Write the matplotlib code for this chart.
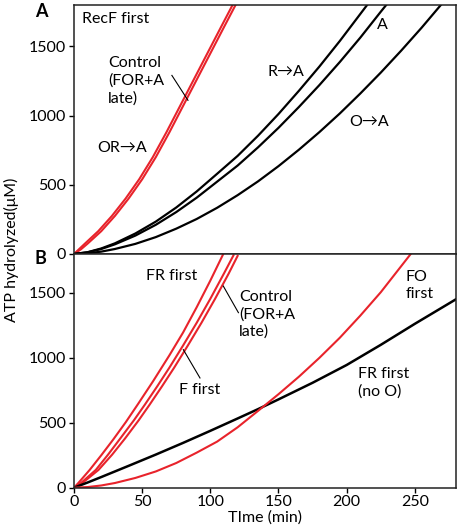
import numpy as np
import matplotlib.pyplot as plt

plt.rcParams['font.family'] = ['Lato', 'DejaVu Sans']
plt.rcParams['font.size'] = 11.5

RED = '#e8232b'

# Panel A: RecF first
t_ctrl_a = [0, 5, 10, 20, 30, 40, 50, 60, 70, 80, 90, 100, 110, 118.5]
v_ctrl_a = [0, 33, 75, 165, 275, 400, 540, 700, 880, 1070, 1260, 1450, 1640, 1800]
t_or_a = [0, 3.5, 8, 17.8, 27.8, 37.8, 47.8, 57.8, 67.8, 77.8, 87.8, 97.8, 107.8, 116.3]
v_or_a = [0, 33, 75, 165, 275, 400, 540, 700, 880, 1070, 1260, 1450, 1640, 1800]
t_ra_a = [0, 10, 20, 30, 45, 60, 75, 90, 105, 120, 135, 150, 165, 180, 195, 210, 215]
v_ra_a = [0, 13, 40, 77, 148, 234, 336, 452, 580, 709, 855, 1012, 1180, 1355, 1540, 1735, 1800]
t_a_a = [0, 10, 20, 30, 45, 60, 75, 90, 105, 120, 135, 150, 165, 180, 195, 210, 225, 229]
v_a_a = [0, 12, 36, 70, 133, 211, 303, 407, 523, 639, 771, 912, 1063, 1221, 1388, 1564, 1751, 1800]
t_oa_a = [0, 10, 20, 30, 45, 60, 75, 90, 105, 120, 135, 150, 165, 180, 195, 210, 225, 240, 255, 269]
v_oa_a = [0, 5, 17, 36, 73, 122, 183, 253, 334, 425, 525, 635, 754, 881, 1016, 1160, 1311, 1470, 1636, 1799]

# Panel B
t_fr_b = [0, 3, 11.5, 20, 28.7, 38, 47, 58, 70, 80, 90, 100, 109.5]
v_fr_b = [0, 34, 137, 250, 370, 505, 645, 820, 1020, 1195, 1390, 1595, 1800]
t_ctrl_b = [0, 5, 16, 25, 34, 44, 52, 61, 70, 80, 90, 100, 110, 117]
v_ctrl_b = [0, 35, 137, 255, 380, 520, 640, 780, 925, 1095, 1270, 1455, 1650, 1790]
t_f_b = [0, 6, 18, 28, 37.5, 47.5, 55.5, 64.5, 73.5, 83.5, 93.5, 103.5, 113.5, 120]
v_f_b = [0, 35, 137, 255, 380, 520, 640, 780, 925, 1095, 1270, 1455, 1650, 1785]
t_fo_b = [0, 10, 20, 30, 45, 60, 75, 90, 105, 120, 136, 150, 165, 180, 195, 210, 225, 247]
v_fo_b = [0, 5, 17, 36, 75, 125, 190, 270, 355, 465, 600, 720, 855, 1000, 1155, 1325, 1505, 1800]
t_noo_b = [0, 10, 20, 40, 60, 80, 100, 120, 135, 150, 175, 200, 225, 250, 280]
v_noo_b = [0, 40, 82, 168, 255, 345, 438, 533, 605, 680, 808, 945, 1100, 1262, 1450]

fig = plt.figure(figsize=(4.58, 5.32), dpi=100)
ax_a = fig.add_axes([0.1616, 0.5226, 0.8334, 0.468])
ax_b = fig.add_axes([0.1616, 0.0833, 0.8334, 0.4393])

for ax in (ax_a, ax_b):
    ax.set_xlim(0, 280)
    ax.set_ylim(0, 1800)
    ax.set_xticks([0, 50, 100, 150, 200, 250])
    ax.set_yticks([0, 500, 1000, 1500])
    for s in ax.spines.values():
        s.set_linewidth(1.1)
        s.set_color('#222222')
    ax.tick_params(direction='out', length=3.5, width=1.0, pad=2)

ax_a.tick_params(labelbottom=False)

# panel A curves
ax_a.plot(t_ctrl_a, v_ctrl_a, color=RED, lw=1.5)
ax_a.plot(t_or_a, v_or_a, color=RED, lw=1.5)
ax_a.plot(t_ra_a, v_ra_a, color='black', lw=1.6)
ax_a.plot(t_a_a, v_a_a, color='black', lw=1.6)
ax_a.plot(t_oa_a, v_oa_a, color='black', lw=1.6)

ax_a.text(6, 1700, 'RecF first', va='center', ha='left')
ax_a.text(25, 1250, 'Control\n(FOR+A\nlate)', va='center', ha='left', linespacing=1.3)
ax_a.plot([71.8, 83.6], [1291, 1111], color='black', lw=0.8)
ax_a.text(17, 765, 'OR\u2192A', va='center', ha='left')
ax_a.text(142, 1315, 'R\u2192A', va='center', ha='left')
ax_a.text(222, 1652, 'A', va='center', ha='left')
ax_a.text(202, 955, 'O\u2192A', va='center', ha='left')

# panel B curves
ax_b.plot(t_fr_b, v_fr_b, color=RED, lw=1.5)
ax_b.plot(t_ctrl_b, v_ctrl_b, color=RED, lw=1.5)
ax_b.plot(t_f_b, v_f_b, color=RED, lw=1.5)
ax_b.plot(t_noo_b, v_noo_b, color='black', lw=1.8)
ax_b.plot(t_fo_b, v_fo_b, color=RED, lw=1.5)

ax_b.text(53, 1631, 'FR first', va='center', ha='left')
ax_b.text(77, 755, 'F first', va='center', ha='left')
ax_b.plot([92.4, 80.2], [845, 1063], color='black', lw=0.8)
ax_b.text(121, 1335, 'Control\n(FOR+A\nlate)', va='center', ha='left', linespacing=1.3)
ax_b.plot([109.5, 120.6], [1553, 1348], color='black', lw=0.8)
ax_b.text(243, 1555, 'FO\nfirst', va='center', ha='left', linespacing=1.3)
ax_b.text(208, 806, 'FR first\n(no O)', va='center', ha='left', linespacing=1.3)

ax_b.set_xlabel('TIme (min)', labelpad=1)

fig.text(0.076, 0.978, 'A', fontweight='bold', fontsize=13, ha='left', va='center')
fig.text(0.076, 0.515, 'B', fontweight='bold', fontsize=13, ha='left', va='center')
fig.text(0.025, 0.53, 'ATP hydrolyzed(\u03bcM)', rotation=90, ha='center', va='center')

fig.savefig('out.png', dpi=100)
